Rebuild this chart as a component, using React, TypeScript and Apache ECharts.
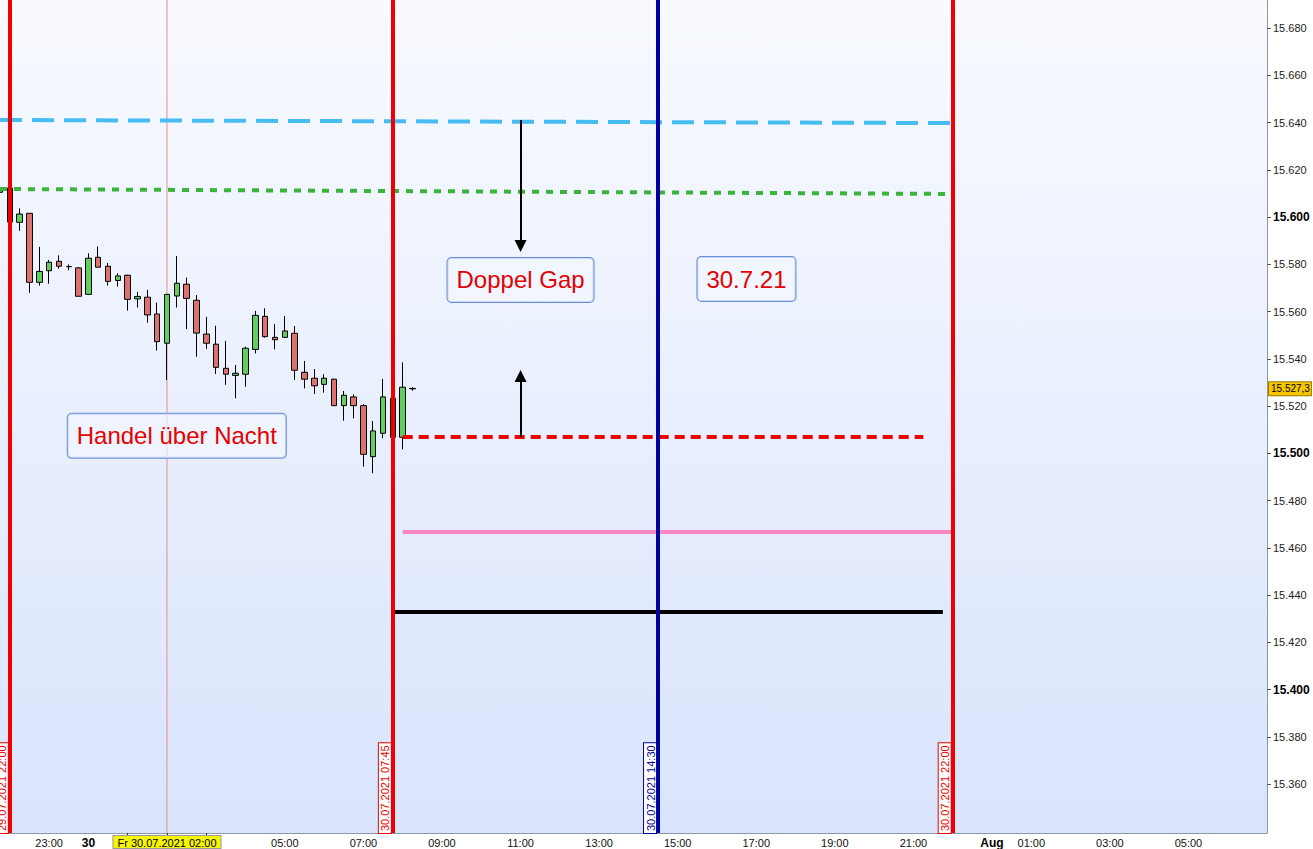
import React, { useEffect, useRef } from "react";
import * as echarts from "echarts";

const FONT = "'Liberation Sans', Arial, sans-serif";

// 15-minute candles, index 0 = 29.07.2021 21:45
const opens = [15.6105, 15.6123, 15.5978, 15.6016, 15.5724, 15.5773, 15.5813, 15.5791, 15.5785, 15.5673, 15.583, 15.5792, 15.5732, 15.5754, 15.5654, 15.5661, 15.559, 15.5466, 15.5666, 15.5716, 15.5648, 15.5505, 15.5462, 15.536, 15.533, 15.5335, 15.544, 15.558, 15.5491, 15.5491, 15.5508, 15.5343, 15.5318, 15.5292, 15.5314, 15.5202, 15.5239, 15.5202, 15.4986, 15.5085, 15.5233, 15.5068, 15.5275];
const closes = [15.6115, 15.5979, 15.6013, 15.5724, 15.577, 15.5809, 15.5792, 15.579, 15.5665, 15.5826, 15.5788, 15.5728, 15.5751, 15.5652, 15.5664, 15.5586, 15.5473, 15.5673, 15.572, 15.5656, 15.5509, 15.5466, 15.5364, 15.5335, 15.5339, 15.5445, 15.5584, 15.5494, 15.5481, 15.5518, 15.5352, 15.5314, 15.5286, 15.5318, 15.5202, 15.5246, 15.5202, 15.4996, 15.5095, 15.5239, 15.5068, 15.528, 15.5273];
const highs = [15.6205, 15.613, 15.6037, 15.6016, 15.5874, 15.5819, 15.5838, 15.58, 15.5789, 15.5847, 15.5876, 15.5806, 15.5762, 15.5756, 15.5684, 15.5692, 15.5638, 15.5673, 15.5835, 15.5744, 15.567, 15.5578, 15.554, 15.5476, 15.5374, 15.5452, 15.5603, 15.5614, 15.5547, 15.5581, 15.5539, 15.5391, 15.5357, 15.5335, 15.5316, 15.5264, 15.525, 15.5208, 15.5137, 15.5315, 15.5235, 15.5385, 15.528];
const lows = [15.6075, 15.5975, 15.5942, 15.568, 15.571, 15.5718, 15.5782, 15.5775, 15.5665, 15.5673, 15.5788, 15.571, 15.5706, 15.5604, 15.5617, 15.5553, 15.5435, 15.531, 15.5617, 15.5526, 15.5409, 15.5442, 15.5336, 15.529, 15.5233, 15.5282, 15.5423, 15.549, 15.544, 15.549, 15.5311, 15.5275, 15.5251, 15.5257, 15.52, 15.5138, 15.5148, 15.4944, 15.4916, 15.5064, 15.5065, 15.5017, 15.5265];

const yTicks = [15.36, 15.38, 15.4, 15.42, 15.44, 15.46, 15.48, 15.5, 15.52, 15.54, 15.56, 15.58, 15.6, 15.62, 15.64, 15.66, 15.68];
const boldTicks = [15.4, 15.5, 15.6];
const yMin = 15.3393;
const yMax = 15.6919;
const lastPrice = 15.5273;
const lastPriceText = "15.527,3";

// horizontal levels: [startIndex, endIndex], [startValue, endValue]
const blueIdx = [0, 97];
const blueVal = [15.6411, 15.6398];
const greenIdx = [0, 97];
const greenVal = [15.6119, 15.6098];
const redIdx = [41, 94];
const redVal = [15.5069, 15.5069];
const pinkIdx = [41, 97];
const pinkVal = [15.4667, 15.4667];
const blackIdx = [40, 96];
const blackVal = [15.4328, 15.4328];

// vertical markers
const vIdx = [1, 40, 67, 97];
const vText = ["29.07.2021 22:00", "30.07.2021 07:45", "30.07.2021 14:30", "30.07.2021 22:00"];
const vColor = ["#f00000", "#f00000", "#00009e", "#f00000"];
const crossIdx = 17;
const crossText = "Fr 30.07.2021 02:00";

// arrows (gap)
const arrowIdx = 53;
const arrowDown = [15.6411, 15.5878];
const arrowUp = [15.5069, 15.5327];

// text notes
const notes = [
  { text: "Doppel Gap", idx: 53, value: 15.5734 },
  { text: "30.7.21", idx: 76, value: 15.5738 },
  { text: "Handel über Nacht", idx: 18, value: 15.5074 },
];

const SLOT_COUNT = 130;
const SESSION_BREAK = 101;
const HIDDEN_LABELS = [13, 21]; // covered by the crosshair date box
const pad = (n: number) => String(n).padStart(2, "0");
const cats: string[] = [];
const xLabels: string[] = [];
for (let i = 0; i < SLOT_COUNT; i++) {
  const t =
    i < SESSION_BREAK
      ? Date.UTC(2021, 6, 29, 21, 45) + i * 900000
      : Date.UTC(2021, 7, 1, 0, 0) + (i - SESSION_BREAK) * 900000;
  const d = new Date(t);
  const hh = d.getUTCHours();
  const mm = d.getUTCMinutes();
  cats.push(`${pad(d.getUTCDate())}.${pad(d.getUTCMonth() + 1)}.${d.getUTCFullYear()} ${pad(hh)}:${pad(mm)}`);
  let lab = "";
  if (mm === 0 && i < 126 && !HIDDEN_LABELS.includes(i)) {
    if (hh === 0) lab = d.getUTCDate() === 1 ? "{b|Aug}" : `{b|${d.getUTCDate()}}`;
    else if (hh % 2 === 1) lab = `${pad(hh)}:00`;
  }
  xLabels.push(lab);
}

function seg(idx: number[], val: number[]) {
  return [
    [idx[0], val[0]],
    [idx[1], val[1]],
  ];
}

export default function App() {
  const ref = useRef<HTMLDivElement>(null);
  useEffect(() => {
    if (!ref.current) return;
    const chart = echarts.init(ref.current, undefined, { renderer: "svg" });
    const candles = opens.map((o, i) => [o, closes[i], lows[i], highs[i]]);
    const lineSeries = (name: string, data: any, color: string, type: any, z: number, width = 4) => ({
      name,
      type: "line",
      data,
      symbol: "none",
      showSymbol: false,
      silent: true,
      z,
      lineStyle: { color, width, type, cap: "butt" },
    });
    const vLines: any[] = vIdx.map((ix, k) => ({
      xAxis: cats[ix],
      lineStyle: { color: vColor[k], width: 4, type: "solid", opacity: 1 },
      label: {
        show: true,
        position: "insideStartTop",
        formatter: vText[k],
        color: vColor[k],
        fontSize: 11,
        fontFamily: FONT,
        backgroundColor: "#ffffff",
        borderColor: vColor[k],
        borderWidth: 1,
        padding: [1, 2, 0, 2],
        distance: [0, 2],
      },
    }));
    const option: any = {
      animation: false,
      textStyle: { fontFamily: FONT },
      grid: {
        left: 0,
        right: 46,
        top: 0,
        bottom: 16,
        show: true,
        borderWidth: 0,
        backgroundColor: new echarts.graphic.LinearGradient(0, 0, 0, 1, [
          { offset: 0, color: "#f8faff" },
          { offset: 1, color: "#d9e4fc" },
        ]),
      },
      xAxis: {
        type: "category",
        data: cats,
        boundaryGap: false,
        axisLine: { show: true, lineStyle: { color: "#8d97a6", width: 1 } },
        axisTick: {
          show: true,
          length: 4,
          interval: (i: number) => i === 13 || i === 17 || i === 21,
          lineStyle: { color: "#333" },
        },
        axisLabel: {
          show: true,
          interval: (i: number) => xLabels[i] !== "",
          formatter: (_v: string, i: number) => xLabels[i],
          fontSize: 11,
          color: "#111",
          margin: 4,
          fontFamily: FONT,
          rich: { b: { fontWeight: "bold", fontSize: 12, color: "#000", fontFamily: FONT } },
        },
        splitLine: { show: false },
      },
      yAxis: {
        type: "value",
        position: "right",
        min: yMin,
        max: yMax,
        splitLine: { show: false },
        axisLine: { show: true, lineStyle: { color: "#8d97a6", width: 1 } },
        axisTick: { show: true, length: 4, customValues: yTicks, lineStyle: { color: "#555" } },
        axisLabel: {
          customValues: yTicks,
          margin: 6,
          fontSize: 11,
          color: "#222",
          fontFamily: FONT,
          formatter: (v: number) => {
            const s = v.toFixed(3);
            return boldTicks.some((b) => Math.abs(b - v) < 1e-6) ? `{b|${s}}` : s;
          },
          rich: { b: { fontWeight: "bold", fontSize: 12, color: "#000", fontFamily: FONT } },
        },
      },
      series: [
        lineSeries("Fadenkreuz", [[crossIdx, yMin], [crossIdx, yMax]], "#f08a8a", "solid", 1, 1),
        {
          name: "Kerzen",
          type: "candlestick",
          data: candles,
          barWidth: 6,
          z: 2,
          itemStyle: {
            color: "#5fcf5f",
            color0: "#df7070",
            borderColor: "#000000",
            borderColor0: "#000000",
            borderWidth: 1,
          },
          markLine: {
            silent: true,
            symbol: ["none", "none"],
            animation: false,
            data: vLines,
          },
        },
        lineSeries("Blau", seg(blueIdx, blueVal), "#45bdf2", [22, 10], 4),
        lineSeries("Grün", seg(greenIdx, greenVal), "#3cb43c", [7, 7], 4),
        {
          ...lineSeries("Gap", seg(redIdx, redVal), "#f00000", [10, 6], 4),
          markLine: {
            silent: true,
            symbol: ["none", "triangle"],
            symbolSize: 12,
            animation: false,
            label: { show: false },
            itemStyle: { color: "#000" },
            lineStyle: { color: "#000", width: 2, type: "solid" },
            data: [
              [{ coord: [cats[arrowIdx], arrowDown[0]] }, { coord: [cats[arrowIdx], arrowDown[1]] }],
              [{ coord: [cats[arrowIdx], arrowUp[0]] }, { coord: [cats[arrowIdx], arrowUp[1]] }],
            ],
          },
        },
        lineSeries("Rosa", seg(pinkIdx, pinkVal), "#f786c2", "solid", 4),
        lineSeries("Schwarz", seg(blackIdx, blackVal), "#000000", "solid", 4),
      ],
    };
    chart.setOption(option);

    const px = (i: number, v: number) =>
      chart.convertToPixel({ xAxisIndex: 0, yAxisIndex: 0 }, [cats[i], v]) as number[];
    const graphics: any[] = notes.map((n) => {
      const p = px(n.idx, n.value);
      return {
        type: "text",
        x: p[0],
        y: p[1],
        z: 100,
        silent: true,
        style: {
          text: n.text,
          font: `24px ${FONT}`,
          fill: "#e60000",
          align: "center",
          verticalAlign: "middle",
          lineHeight: 30,
          backgroundColor: "rgba(243,246,255,0.7)",
          borderColor: "#6b8fd6",
          borderWidth: 1,
          borderRadius: 4,
          padding: [7, 9, 7, 9],
        },
      };
    });
    const pp = px(0, lastPrice);
    const right = 1313 - 46;
    graphics.push({
      type: "text",
      x: right + 2,
      y: pp[1],
      z: 100,
      silent: true,
      style: {
        text: lastPriceText,
        font: `10px ${FONT}`,
        fill: "#000",
        align: "left",
        verticalAlign: "middle",
        backgroundColor: "#f7c600",
        borderColor: "#9a7a00",
        borderWidth: 1,
        padding: [2, 1, 1, 2],
      },
    });
    const cp = px(crossIdx, yMin);
    graphics.push({
      type: "text",
      x: cp[0],
      y: cp[1] + 3,
      z: 100,
      silent: true,
      style: {
        text: crossText,
        font: `11px ${FONT}`,
        fill: "#000",
        align: "center",
        verticalAlign: "top",
        backgroundColor: "#f5f500",
        borderColor: "#9a9a9a",
        borderWidth: 1,
        padding: [1, 4, 0, 4],
      },
    });
    chart.setOption({ graphic: graphics });
    return () => chart.dispose();
  }, []);
  return (
    <div
      ref={ref}
      style={{ position: "absolute", left: 0, top: 0, width: 1313, height: 849, background: "#fff" }}
    />
  );
}
